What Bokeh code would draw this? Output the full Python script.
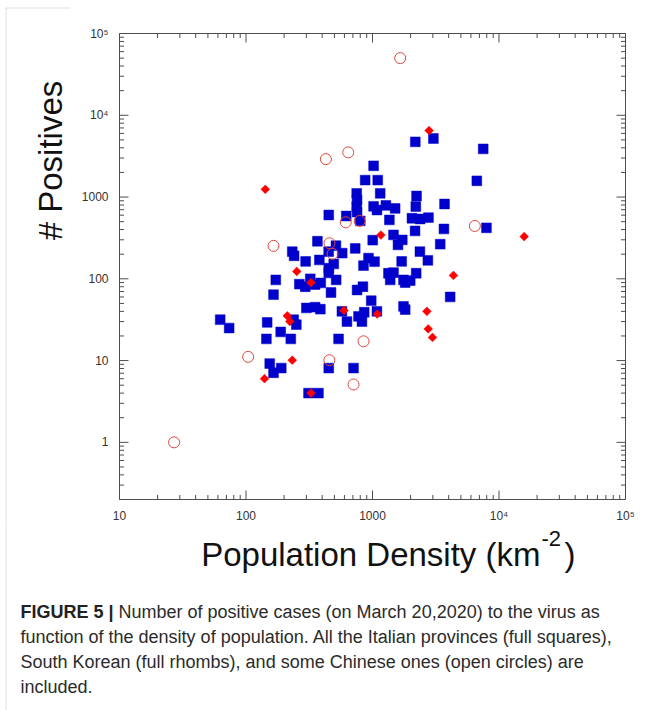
import numpy as np
from bokeh.plotting import figure
from bokeh.layouts import column, row
from bokeh.models import Label, FixedTicker, BoxAnnotation, Range1d
from bokeh.embed import file_html
from bokeh.resources import INLINE

# Italian provinces (full squares): density (km^-2), positives
italy_density = [2180, 3030, 7500, 1020, 875, 1100, 6680, 1150, 750, 755,
                 750, 755, 2230, 3710, 1020, 1085, 1276, 1510, 2200, 1360,
                 800, 2050, 2380, 2770, 2170, 3670, 7960, 1004, 730, 1466,
                 1720, 1590, 3430, 2370, 2740, 1700, 930, 1038, 849, 1337,
                 1466, 1380, 1758, 1986, 1813, 2215, 840, 755, 977, 4110,
                 451, 620, 367, 514, 450, 576, 232, 240, 296, 380,
                 494, 451, 451, 516, 172, 264, 294, 322, 352, 390,
                 165, 470, 300, 352, 387, 573, 860, 1084, 1758, 1813,
                 62.5, 73.6, 147, 238, 250, 628, 775, 825, 188, 145,
                 226, 539, 154, 165, 190, 451, 708, 312, 374]
italy_pos = [4730, 5200, 3880, 2410, 1610, 1610, 1580, 1110, 1110, 920,
             766, 655, 1030, 822, 770, 694, 790, 725, 766, 525,
             510, 550, 539, 560, 385, 407, 420, 297, 235, 344,
             299, 260, 265, 215, 168, 163, 179, 162, 145, 117,
             119, 97, 97, 95, 90, 117, 80, 73, 54, 60,
             603, 586, 288, 254, 215, 206, 215, 191, 163, 170,
             152, 135, 118, 97, 97, 86, 80, 100, 85, 89,
             64, 68, 44, 45, 42.5, 40, 39, 40, 46, 42,
             31.6, 25, 29.3, 31.6, 27.5, 30, 34.8, 30, 22.4, 18.4,
             18.4, 18.4, 9.2, 7.1, 8.1, 8.1, 8.1, 4, 4]

# South Korean provinces (full rhombs)
korea_density = [142, 2800, 1165, 15820, 4365, 252, 326, 595, 1090, 2692,
                 212, 222, 2756, 2980, 232, 140, 326]
korea_pos = [1242, 6505, 343, 328, 110, 123, 90, 41, 37, 40,
             35.3, 30.1, 24.4, 19.2, 10.1, 6.0, 4.0]

# Chinese provinces (open circles)
china_density = [1656, 643, 428, 165, 614, 792, 457, 483, 6442, 104,
                 456, 849, 708, 27]
china_pos = [50000, 3518, 2907, 253, 491, 510, 272, 202, 443, 11.1,
             10.1, 17.2, 5.1, 1]

x_major = [10, 100, 1000, 10000, 100000]
x_labels = ["10", "100", "1000", "10⁴", "10⁵"]
y_major = [1, 10, 100, 1000, 10000, 100000]
y_labels = ["1", "10", "100", "1000", "10⁴", "10⁵"]
x_lo, x_hi = 10, 1e5
y_lo, y_hi = 0.2, 1e5

FONT = "Liberation Sans"
AX = "#4d4d4d"
BORDER = "#9a9a9a"
CAP_COLOR = "#2b2b2b"

x_minor = [m * 10.0 ** e for e in range(1, 5) for m in range(2, 10)]
y_minor = [m * 10.0 ** e for e in range(-1, 5) for m in range(2, 10) if m * 10.0 ** e >= y_lo]


def blank(w, h, x0, x1, y0, y1):
    f = figure(width=w, height=h, x_range=Range1d(x0, x1), y_range=Range1d(y0, y1),
               toolbar_location=None, output_backend="svg", min_border=0,
               x_axis_location=None, y_axis_location=None)
    f.grid.visible = False
    f.outline_line_color = None
    f.background_fill_color = "white"
    f.border_fill_color = "white"
    return f


# ---- main plot (page x 70..652, y 8..525) ----
p = figure(width=582, height=517, x_axis_type="log", y_axis_type="log",
           x_range=(x_lo, x_hi), y_range=(y_lo, y_hi),
           toolbar_location=None, output_backend="svg",
           min_border_left=49, min_border_right=27,
           min_border_top=25, min_border_bottom=26)
p.grid.visible = False
p.outline_line_color = AX
p.outline_line_width = 1
p.background_fill_color = "white"
p.border_fill_color = "white"

for ax, ticks, labels in ((p.xaxis[0], x_major, x_labels), (p.yaxis[0], y_major, y_labels)):
    ax.ticker = FixedTicker(ticks=ticks, minor_ticks=[])
    ax.major_tick_in = 0
    ax.major_tick_out = 0
    ax.minor_tick_in = 0
    ax.minor_tick_out = 0
    ax.axis_line_color = None
    ax.major_label_overrides = {t: l for t, l in zip(ticks, labels)}
    ax.major_label_text_font = FONT
    ax.major_label_text_font_size = "12px"
    ax.major_label_text_color = "#333333"
p.xaxis[0].major_label_standoff = 9
p.yaxis[0].major_label_standoff = 11

# inward ticks on all four sides (markers centred on the frame edge, outer half clipped)
TK = dict(marker="dash", line_color=AX, line_width=1)
p.scatter(x_major, [y_lo] * len(x_major), size=18, angle=np.pi / 2, **TK)
p.scatter(x_major, [y_hi] * len(x_major), size=18, angle=np.pi / 2, **TK)
p.scatter(x_minor, [y_lo] * len(x_minor), size=9, angle=np.pi / 2, **TK)
p.scatter(x_minor, [y_hi] * len(x_minor), size=9, angle=np.pi / 2, **TK)
p.scatter([x_lo] * len(y_major), y_major, size=18, **TK)
p.scatter([x_hi] * len(y_major), y_major, size=18, **TK)
p.scatter([x_lo] * len(y_minor), y_minor, size=9, **TK)
p.scatter([x_hi] * len(y_minor), y_minor, size=9, **TK)

# data markers
p.scatter(italy_density, italy_pos, marker="square", size=9.8,
          fill_color="#0000cc", line_color="#0000cc", line_width=0.5)
p.scatter(korea_density, korea_pos, marker="square", size=6.2, angle=np.pi / 4,
          fill_color="#ff0000", line_color="#ff0000", line_width=0.5)
p.scatter(china_density, china_pos, marker="circle", size=11,
          fill_color=None, line_color="#e0483e", line_width=1)

# ---- left strip (page x 0..70, y 0..525): border + y title ----
left = blank(70, 525, 0, 70, 525, 0)
left.add_layout(BoxAnnotation(left=5.5, right=5000, top=7.5, bottom=5000,
                              fill_color=None, line_color=BORDER, line_width=1))
left.add_layout(Label(x=50, y=160, text="# Positives", angle=np.pi / 2,
                      text_align="center", text_baseline="middle",
                      text_font=FONT, text_font_size="33px", text_color="#111111"))

# ---- top strip (page x 70..652, y 0..8): border ----
top = blank(582, 8, 70, 652, 8, 0)
top.add_layout(BoxAnnotation(left=-5000, right=5000, top=7.5, bottom=5000,
                             fill_color=None, line_color=BORDER, line_width=1))

# ---- bottom part (page x 0..652, y 525..710): x title + caption ----
cap = blank(652, 185, 0, 652, 710, 525)
cap.add_layout(BoxAnnotation(left=5.5, right=5000, top=-5000, bottom=5000,
                             fill_color=None, line_color=BORDER, line_width=1))
cap.add_layout(Label(x=540, y=554, text="Population Density (km", text_align="right",
                     text_baseline="middle", text_font=FONT, text_font_size="33px",
                     text_color="#111111"))
cap.add_layout(Label(x=541, y=538, text="-2", text_align="left",
                     text_baseline="middle", text_font=FONT, text_font_size="22px",
                     text_color="#111111"))
cap.add_layout(Label(x=564, y=554, text=")", text_align="left",
                     text_baseline="middle", text_font=FONT, text_font_size="33px",
                     text_color="#111111"))

cap.add_layout(Label(x=20, y=611, text="FIGURE 5 |", text_align="left", text_baseline="middle",
                     text_font=FONT, text_font_size="18px", text_font_style="bold",
                     text_color="#222222"))
cap_lines = ["Number of positive cases (on March 20,2020) to the virus as",
             "function of the density of population. All the Italian provinces (full squares),",
             "South Korean (full rhombs), and some Chinese ones (open circles) are",
             "included."]
cap_x = [118, 20, 20, 20]
cap_y = [611, 636, 661, 686]
for t, cx, cy in zip(cap_lines, cap_x, cap_y):
    cap.add_layout(Label(x=cx, y=cy, text=t, text_align="left", text_baseline="middle",
                         text_font=FONT, text_font_size="18px", text_color=CAP_COLOR))

layout = column(row(left, column(top, p)), cap)
open("out.html", "w").write(file_html(layout, INLINE))
